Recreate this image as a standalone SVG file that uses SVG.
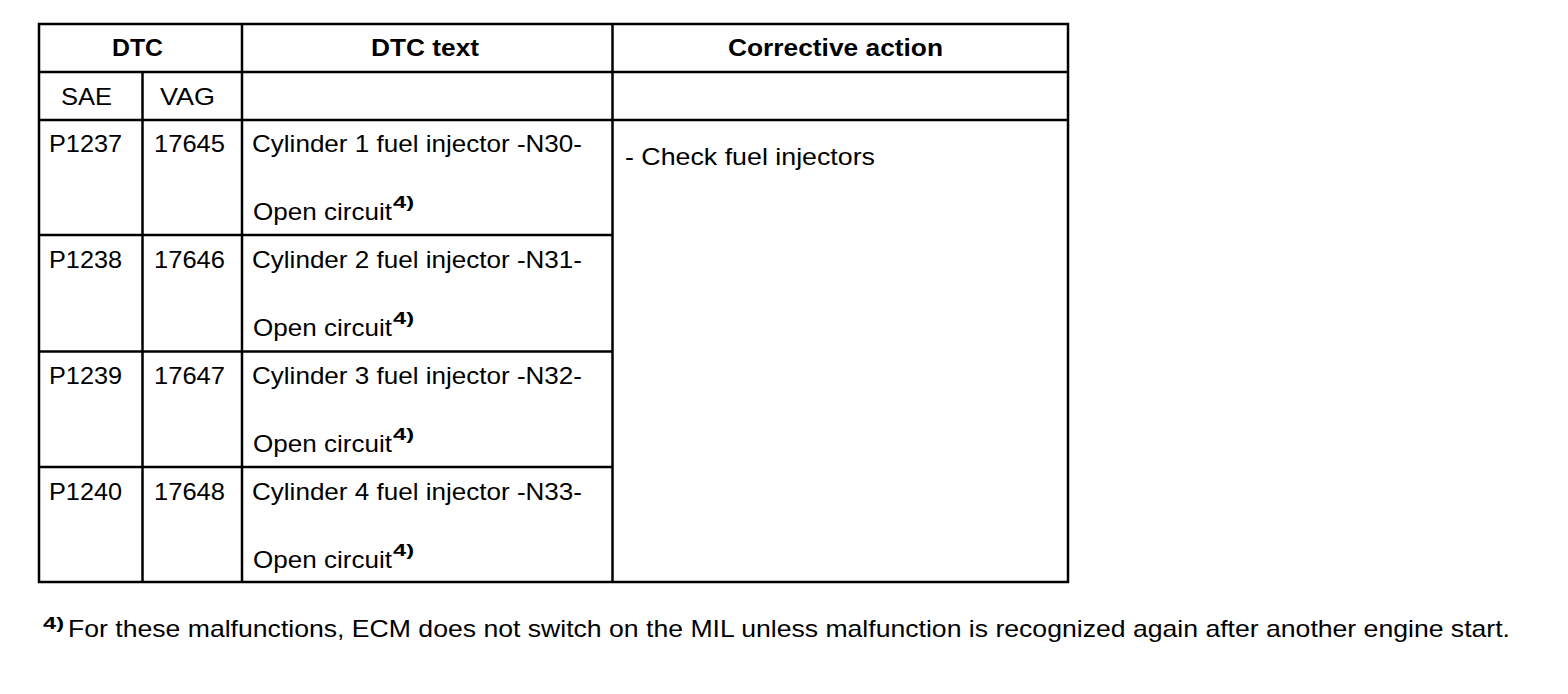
<svg xmlns="http://www.w3.org/2000/svg" width="1568" height="694" viewBox="0 0 1568 694">
<style>
.t{font-family:"Liberation Sans",Arial,Helvetica,sans-serif;font-size:24px;fill:#000}
.b{font-weight:bold}
.s{font-family:"Liberation Sans",Arial,Helvetica,sans-serif;font-size:17px;font-weight:bold;fill:#000}
.ln{stroke:#000;stroke-width:2.5;fill:none}
</style>
<rect width="1568" height="694" fill="#fff"/>
<g id="grid">
<rect class="ln" x="39" y="24" width="1029" height="558"/>
<line class="ln" x1="39" y1="72" x2="1068" y2="72"/>
<line class="ln" x1="39" y1="120" x2="1068" y2="120"/>
<line class="ln" x1="39" y1="235" x2="613" y2="235"/>
<line class="ln" x1="39" y1="351.5" x2="613" y2="351.5"/>
<line class="ln" x1="39" y1="467" x2="613" y2="467"/>
<line class="ln" x1="142.5" y1="72" x2="142.5" y2="582"/>
<line class="ln" x1="242" y1="24" x2="242" y2="582"/>
<line class="ln" x1="612.5" y1="24" x2="612.5" y2="582"/>
</g>
<g id="header">
<text class="t b" x="112" y="56" textLength="51" lengthAdjust="spacingAndGlyphs">DTC</text>
<text class="t b" x="371" y="56" textLength="108" lengthAdjust="spacingAndGlyphs">DTC text</text>
<text class="t b" x="728" y="56" textLength="215" lengthAdjust="spacingAndGlyphs">Corrective action</text>
<text class="t" x="61" y="105" textLength="51" lengthAdjust="spacingAndGlyphs">SAE</text>
<text class="t" x="160" y="105" textLength="55" lengthAdjust="spacingAndGlyphs">VAG</text>
</g>
<g id="row1">
<text class="t" x="49" y="152" textLength="73" lengthAdjust="spacingAndGlyphs">P1237</text>
<text class="t" x="154" y="152" textLength="71" lengthAdjust="spacingAndGlyphs">17645</text>
<text class="t" x="252" y="152" textLength="330" lengthAdjust="spacingAndGlyphs">Cylinder 1 fuel injector -N30-</text>
<text class="t" x="253" y="220" textLength="139" lengthAdjust="spacingAndGlyphs">Open circuit</text>
<text class="s" x="393" y="208" textLength="21" lengthAdjust="spacingAndGlyphs">4)</text>
</g>
<g id="row2">
<text class="t" x="49" y="268" textLength="73" lengthAdjust="spacingAndGlyphs">P1238</text>
<text class="t" x="154" y="268" textLength="71" lengthAdjust="spacingAndGlyphs">17646</text>
<text class="t" x="252" y="268" textLength="330" lengthAdjust="spacingAndGlyphs">Cylinder 2 fuel injector -N31-</text>
<text class="t" x="253" y="336" textLength="139" lengthAdjust="spacingAndGlyphs">Open circuit</text>
<text class="s" x="393" y="324" textLength="21" lengthAdjust="spacingAndGlyphs">4)</text>
</g>
<g id="row3">
<text class="t" x="49" y="384" textLength="73" lengthAdjust="spacingAndGlyphs">P1239</text>
<text class="t" x="154" y="384" textLength="71" lengthAdjust="spacingAndGlyphs">17647</text>
<text class="t" x="252" y="384" textLength="330" lengthAdjust="spacingAndGlyphs">Cylinder 3 fuel injector -N32-</text>
<text class="t" x="253" y="452" textLength="139" lengthAdjust="spacingAndGlyphs">Open circuit</text>
<text class="s" x="393" y="440" textLength="21" lengthAdjust="spacingAndGlyphs">4)</text>
</g>
<g id="row4">
<text class="t" x="49" y="500" textLength="73" lengthAdjust="spacingAndGlyphs">P1240</text>
<text class="t" x="154" y="500" textLength="71" lengthAdjust="spacingAndGlyphs">17648</text>
<text class="t" x="252" y="500" textLength="330" lengthAdjust="spacingAndGlyphs">Cylinder 4 fuel injector -N33-</text>
<text class="t" x="253" y="568" textLength="139" lengthAdjust="spacingAndGlyphs">Open circuit</text>
<text class="s" x="393" y="556" textLength="21" lengthAdjust="spacingAndGlyphs">4)</text>
</g>
<g id="action">
<text class="t" x="625" y="165" textLength="250" lengthAdjust="spacingAndGlyphs">- Check fuel injectors</text>
</g>
<g id="footnote">
<text class="s" x="43" y="629" textLength="21" lengthAdjust="spacingAndGlyphs">4)</text>
<text class="t" x="68" y="637" textLength="1442" lengthAdjust="spacingAndGlyphs">For these malfunctions, ECM does not switch on the MIL unless malfunction is recognized again after another engine start.</text>
</g>
</svg>
